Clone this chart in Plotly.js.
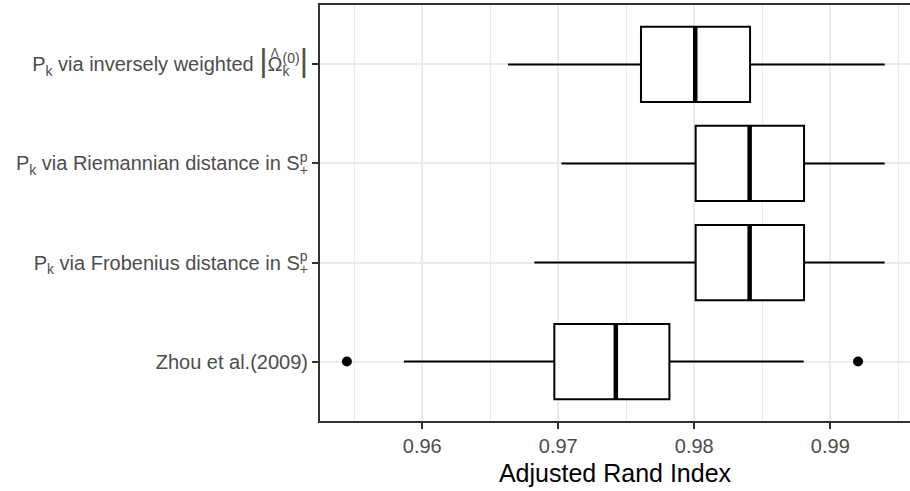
<!DOCTYPE html>
<html>
<head>
<meta charset="utf-8">
<script src="https://cdn.plot.ly/plotly-3.0.1.min.js"></script>
<style>
  html, body { margin: 0; padding: 0; background: #fff; overflow: hidden; }
  #chart { width: 910px; height: 491px; }
</style>
</head>
<body>
<div id="chart"></div>
<script>
// ---- data ----
const categories = [
  "Zhou et al.(2009)",
  "Pk via Frobenius distance in S+p",
  "Pk via Riemannian distance in S+p",
  "Pk via inversely weighted |Omega_k^(0)|"
];
const tickLabels = [
  "Zhou et al.(2009)",
  "P<sub>k</sub> via Frobenius distance in S<sup><span style='letter-spacing:-0.55em'>p</span></sup><sub>+</sub>",
  "P<sub>k</sub> via Riemannian distance in S<sup><span style='letter-spacing:-0.55em'>p</span></sup><sub>+</sub>",
  "P<sub>k</sub> via inversely weighted <span style='font-size:32px'>|</span><span style='letter-spacing:-11.7px'>\u03A9</span><span style='font-size:12px;baseline-shift:14px;letter-spacing:3.7px'>\u039B</span><sub><span style='letter-spacing:-0.5em'>k</span></sub><sup>(0)</sup><span style='font-size:32px'>|</span>"
];
const lowerWhisker = [0.95865, 0.96824, 0.97023, 0.96631];
const q1Values     = [0.96971, 0.98010, 0.98010, 0.97608];
const medianValues = [0.97423, 0.98407, 0.98407, 0.98007];
const q3Values     = [0.97817, 0.98807, 0.98807, 0.98410];
const upperWhisker = [0.98804, 0.99400, 0.99400, 0.99400];
const outlierCategory = ["Zhou et al.(2009)", "Zhou et al.(2009)"];
const outlierValues   = [0.95446, 0.99204];
const xTickValues = [0.96, 0.97, 0.98, 0.99];
const xTickLabels = ["0.96", "0.97", "0.98", "0.99"];

// ---- style ----
const FONT = "Liberation Sans, Arial, Helvetica, sans-serif";
const BOX_WIDTH = 0.76;

const boxTrace = {
  type: "box",
  orientation: "h",
  y: categories,
  q1: q1Values,
  median: medianValues,
  q3: q3Values,
  lowerfence: lowerWhisker,
  upperfence: upperWhisker,
  width: BOX_WIDTH,
  whiskerwidth: 0,
  fillcolor: "#ffffff",
  line: { color: "#000000", width: 2 },
  boxpoints: false,
  hoverinfo: "skip",
  showlegend: false
};

const outlierTrace = {
  type: "scatter",
  mode: "markers",
  x: outlierValues,
  y: outlierCategory,
  marker: { color: "#000000", size: 10, symbol: "circle" },
  hoverinfo: "skip",
  showlegend: false,
  cliponaxis: false
};

// thicker median bars (ggplot fatten = 2)
const medianShapes = medianValues.map((m, i) => ({
  type: "line",
  xref: "x", yref: "y",
  x0: m, x1: m,
  y0: i - BOX_WIDTH / 2, y1: i + BOX_WIDTH / 2,
  line: { color: "#000000", width: 4.5 },
  layer: "above"
}));

const layout = {
  width: 910,
  height: 491,
  margin: { l: 320, r: 0, t: 5, b: 70, pad: 0 },
  paper_bgcolor: "#ffffff",
  plot_bgcolor: "#ffffff",
  font: { family: FONT, color: "#4D4D4D", size: 20 },
  showlegend: false,
  xaxis: {
    range: [0.95248, 0.99586],
    tickvals: xTickValues,
    ticktext: xTickLabels,
    ticks: "outside",
    ticklen: 6,
    tickwidth: 2,
    tickcolor: "#333333",
    tickfont: { family: FONT, size: 20, color: "#4D4D4D" },
    showgrid: true,
    gridcolor: "#EBEBEB",
    gridwidth: 2,
    minor: { dtick: 0.005, tick0: 0.955, showgrid: true, gridcolor: "#EBEBEB", gridwidth: 1, ticks: "" },
    showline: true,
    mirror: true,
    linecolor: "#333333",
    linewidth: 2,
    zeroline: false,
    fixedrange: true,
    title: { text: "Adjusted Rand Index", font: { family: FONT, size: 25, color: "#000000" }, standoff: 8 },
    automargin: false
  },
  yaxis: {
    type: "category",
    categoryorder: "array",
    categoryarray: categories,
    tickvals: categories,
    ticktext: tickLabels,
    range: [-0.6, 3.6],
    ticks: "outside",
    ticklen: 6,
    tickwidth: 2,
    tickcolor: "#333333",
    tickfont: { family: FONT, size: 20, color: "#4D4D4D" },
    showgrid: true,
    gridcolor: "#EBEBEB",
    gridwidth: 2,
    showline: true,
    mirror: false,
    linecolor: "#333333",
    linewidth: 2,
    zeroline: false,
    fixedrange: true,
    automargin: false
  },
  shapes: medianShapes
};

Plotly.newPlot("chart", [boxTrace, outlierTrace], layout, { displayModeBar: false, staticPlot: true });
</script>
</body>
</html>
